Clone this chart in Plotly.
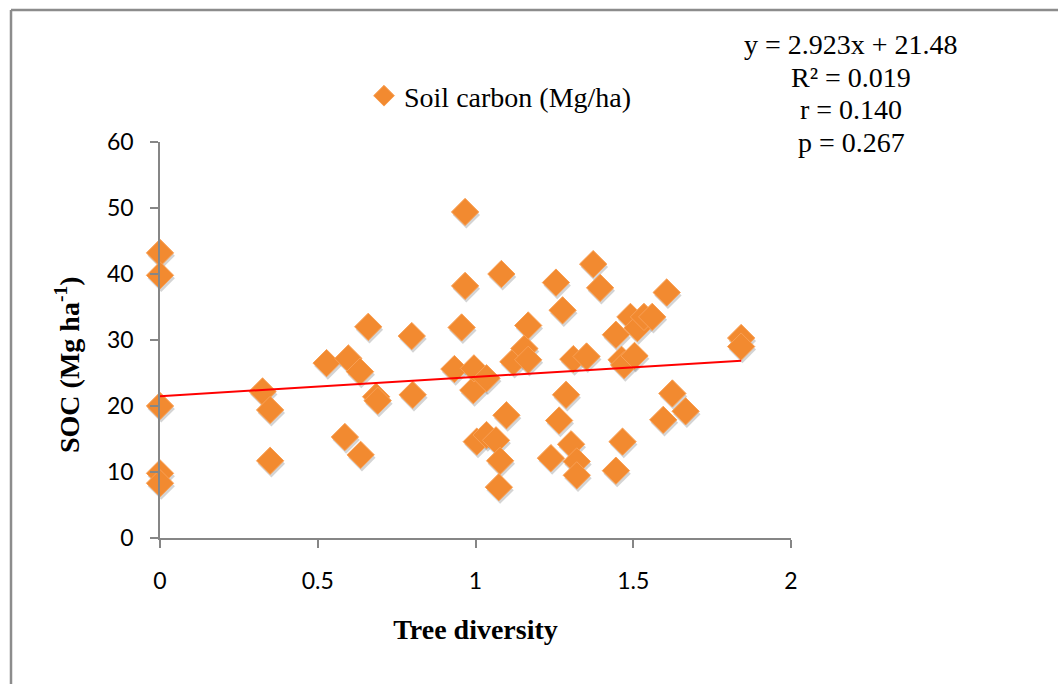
import plotly.graph_objects as go

# Tree diversity (Shannon index) per plot
tree_diversity = [
    0, 0, 0, 0, 0,
    0.325, 0.349, 0.349, 0.528, 0.586, 0.597, 0.634, 0.636, 0.660, 0.685, 0.690,
    0.798, 0.801, 0.933, 0.956, 0.967, 0.967, 0.993, 0.995, 1.004, 1.035, 1.035,
    1.065, 1.074, 1.078, 1.082, 1.098, 1.120, 1.155, 1.167, 1.167, 1.239, 1.255,
    1.265, 1.276, 1.287, 1.303, 1.310, 1.321, 1.321, 1.352, 1.373, 1.395, 1.445,
    1.445, 1.463, 1.466, 1.471, 1.491, 1.504, 1.513, 1.534, 1.560, 1.595, 1.606,
    1.624, 1.666, 1.842, 1.842,
]

# Soil organic carbon stock (Mg/ha) per plot
soil_carbon = [
    43.2, 39.8, 20.0, 9.8, 8.3,
    22.2, 19.4, 11.7, 26.5, 15.3, 27.2, 25.2, 12.6, 32.0, 21.4, 20.8,
    30.6, 21.7, 25.6, 31.9, 49.4, 38.2, 22.4, 25.7, 14.6, 24.2, 15.6,
    14.8, 7.7, 11.7, 40.0, 18.6, 26.7, 28.7, 27.0, 32.2, 12.1, 38.7,
    17.8, 34.5, 21.7, 14.2, 27.1, 11.6, 9.5, 27.5, 41.5, 37.9, 30.8,
    10.2, 27.0, 14.6, 26.2, 33.5, 27.6, 31.8, 33.5, 33.5, 17.9, 37.2,
    21.9, 19.2, 30.3, 29.0,
]

# Linear fit statistics
slope = 2.923
intercept = 21.48
r_squared = 0.019
r_value = 0.140
p_value = 0.267

x_ticks = [0, 0.5, 1, 1.5, 2]
y_ticks = [0, 10, 20, 30, 40, 50, 60]

serif = "Liberation Serif"
sans = "Lato"
orange = "#F28A30"
text_size = 28

fit_x = [0, max(tree_diversity)]
fit_y = [slope * v + intercept for v in fit_x]

fig = go.Figure()

# soft drop shadow under the diamonds
fig.add_trace(go.Scatter(
    x=[v + 0.004 for v in tree_diversity],
    y=[v - 0.45 for v in soil_carbon],
    mode="markers", cliponaxis=False,
    marker=dict(symbol="diamond", size=21, color="rgba(60,60,60,0.22)",
                line=dict(width=0)),
    showlegend=False, hoverinfo="skip",
))

fig.add_trace(go.Scatter(
    x=tree_diversity, y=soil_carbon,
    mode="markers", cliponaxis=False,
    name="Soil carbon (Mg/ha)",
    marker=dict(symbol="diamond", size=21, color=orange,
                line=dict(color="#F9A055", width=1)),
))

fig.add_trace(go.Scatter(
    x=fit_x, y=fit_y, mode="lines",
    line=dict(color="#FF0000", width=2),
    showlegend=False, hoverinfo="skip",
))

axis_common = dict(
    showgrid=False, zeroline=False, showline=True,
    linecolor="#868686", linewidth=1.5,
    ticks="outside", ticklen=8, tickwidth=1.5, tickcolor="#868686",
    tickfont=dict(family=sans, size=23, color="#000000"),
)

fig.update_xaxes(
    range=[0, 2], tickvals=x_ticks, ticktext=[str(t) for t in x_ticks],
    ticklabelstandoff=14,
    title=dict(text="<b>Tree diversity</b>", standoff=26,
               font=dict(family=serif, size=text_size, color="#000000")),
    **axis_common,
)
fig.update_yaxes(
    range=[0, 60], tickvals=y_ticks,
    ticklabelstandoff=12,
    **axis_common,
)

# y-axis title, set a little below the plot's middle
fig.add_annotation(
    text="<b>SOC (Mg ha<sup>-1</sup>)</b>", xref="paper", yref="paper",
    x=(67 - 160) / 631, y=(538 - 365) / 396, textangle=-90,
    xanchor="center", yanchor="middle", showarrow=False,
    font=dict(family=serif, size=text_size, color="#000000"),
)

# outer chart frame (top and left edges)
frame = dict(color="#8C8C8C", width=2.5)
fig.add_shape(type="line", xref="paper", yref="paper",
              x0=(11 - 160) / 631, x1=1.5, y0=(538 - 10) / 396, y1=(538 - 10) / 396,
              line=frame)
fig.add_shape(type="line", xref="paper", yref="paper",
              x0=(11 - 160) / 631, x1=(11 - 160) / 631, y0=(538 - 10) / 396, y1=-0.5,
              line=frame)

stats_lines = [
    f"y = {slope}x + {intercept}",
    f"R² = {r_squared:.3f}",
    f"r = {r_value:.3f}",
    f"p = {p_value:.3f}",
]
for i, line in enumerate(stats_lines):
    fig.add_annotation(
        text=line, xref="paper", yref="paper",
        x=(851 - 160) / 631, y=(538 - (45 + 32.5 * i)) / 396,
        xanchor="center", yanchor="middle", showarrow=False,
        font=dict(family=serif, size=text_size, color="#000000"),
    )

fig.update_layout(
    width=1058, height=684,
    margin=dict(l=160, r=267, t=142, b=146),
    paper_bgcolor="white", plot_bgcolor="white",
    showlegend=True,
    legend=dict(
        x=(364 - 160) / 631, y=(538 - 96) / 396,
        xanchor="left", yanchor="middle",
        font=dict(family=serif, size=text_size, color="#000000"),
        bgcolor="rgba(0,0,0,0)", itemwidth=30,
    ),
)

fig.write_html("out.html")
